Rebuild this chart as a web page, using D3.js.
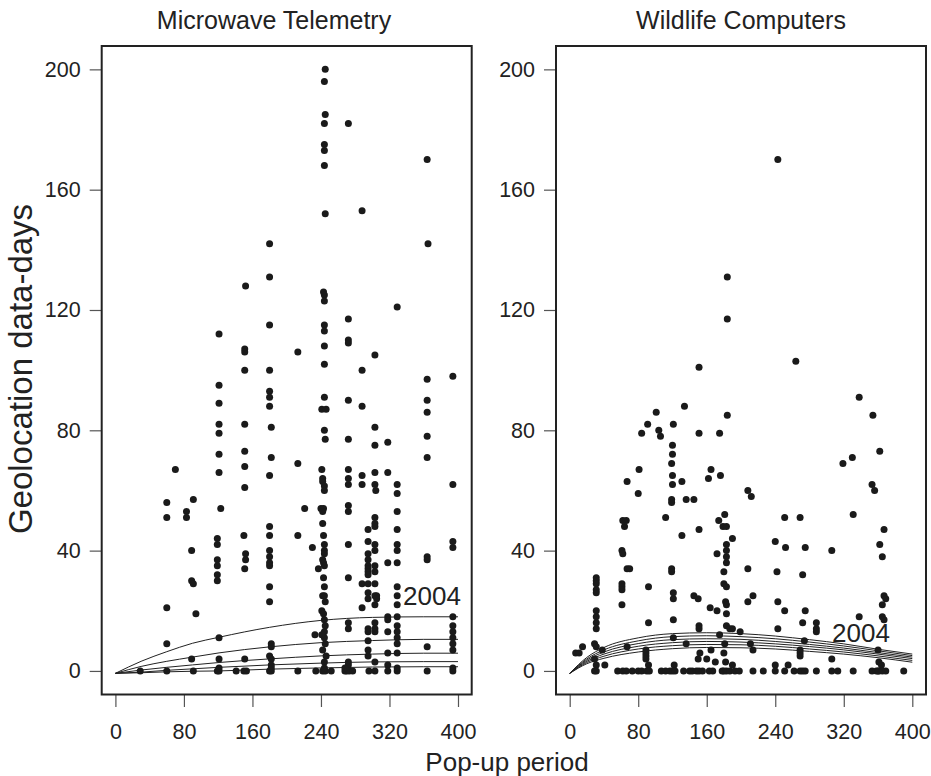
<!DOCTYPE html>
<html><head><meta charset="utf-8">
<script src="https://cdn.jsdelivr.net/npm/d3@7"></script>
<style>
body{margin:0;background:#fff}
text{font-family:"Liberation Sans",Arial,Helvetica,sans-serif;fill:#222}
</style>
</head><body><svg id="c" width="931" height="776"></svg>
<script>
const xTicks=[0,80,160,240,320,400];
const yTicks=[0,40,80,120,160,200];
const panelTitles=["Microwave Telemetry","Wildlife Computers"];
const xLabel="Pop-up period";
const yLabel="Geolocation data-days";
const curveLabel="2004";

// Microwave Telemetry points
const mtX=[245,244,245,244,272,244,244,364,244,245,288,180,365,180,152,243,244,244,329,272,180,244,244,121,272,272,151,151,213,244,303,
151,180,244,288,364,394,121,121,180,180,180,244,241,246,272,288,364,364,
121,121,151,182,244,245,272,303,303,318,364,121,121,151,151,151,182,180,70,213,364,
241,242,242,244,244,272,272,272,288,288,303,303,304,318,329,329,394,
60,60,83,83,91,123,221,240,243,242,272,272,329,
180,180,150,213,242,243,244,244,244,119,119,89,152,152,180,180,180,180,151,119,119,119,119,89,91,180,180,230,237,
242,243,244,243,244,242,244,245,241,243,244,245,244,244,245,242,246,244,
272,272,272,272,272,272,288,288,295,303,303,303,
295,295,295,295,295,295,295,303,303,303,303,303,303,303,295,295,295,305,305,
295,295,303,303,303,295,295,295,303,
318,318,318,318,318,318,
329,329,329,329,329,329,329,329,329,329,329,329,329,
364,364,364,394,394,394,394,394,394,394,394,
60,94,60,121,89,121,151,182,182,180,182,182,241,233,
29,60,91,119,121,141,150,153,180,182,213,234,242,245,252,268,270,273,277,296,303,318,329,364,394,
268,244,182,329,394,121];
const mtY=[200,196,185,182,182,175,173,170,168,152,153,142,142,131,128,126,125,123,121,117,115,115,113,112,110,109,107,106,106,108,105,
100,100,102,100,97,98,95,89,93,91,88,91,87,87,90,88,90,86,
82,79,82,81,80,77,77,81,75,76,78,72,66,73,68,61,71,65,67,69,71,
67,64,63,61.5,60,67,64,62,65,62,66,62,60,66,62,59,62,
56,51,53,51,57,54,54,54,54,53,55,53,53,
48,45,45,45,49,45,42,40,39,44,42,40,39,37,40,38,36,35,34,37,35,32,30,30,29,28,23,41,34,
37,36,35,31,28,25,25,23,20,19,17,15,13,11,9,7,5,3,
42,31,16,14,3,2,29,21,47,49,48,51,
43,39,37,35,34,33,32,42,40,35,33,29,25,22,29,26,24,25,24,
14,13,16,14,13,10,7,5,3,
36,18,17,13,6,2,
47,42,40,36,28,25,22,18,15,13,11,9,6,
38,37,8,43,41,18,15,13,11,9,7,
21,19,9,11,4,4,4,9,8,5,4,2,12,12,
0,0,0,0,0,0,0,0,0,0,0,0,0,0,0,0,0,0,0,0,0,0,0,0,0,
1,1,1,1,1,1];

// Wildlife Computers points
const wcX=[264,151,338,134,101,184,354,91,121,84,104,106,151,175,120,120,119,81,165,162,176,120,120,131,67,80,353,356,319,330,362,208,212,119,119,136,145,112,62,66,64,181,174,179,183,251,269,331,367,151,131,190,240,252,275,306,362,365,183,183,183,183,172,61,62,67,70,208,242,272,119,119,180,180,183,92,61,61,61,31,31,31,31,31,121,121,145,150,182,183,164,172,183,208,214,243,251,275,367,369,365,365,367,338,61,31,31,31,31,92,121,151,151,183,187,190,199,175,243,272,288,288,288,274,29,31,15,7,11,38,67,89,89,89,89,121,136,152,165,181,180,211,214,269,269,269,306,360,
29,31,41,150,160,170,182,190,240,255,361,364,92,122,
29,31,56,62,66,73,80,84,90,93,107,112,117,120,123,133,140,143,148,151,155,163,167,178,180,183,187,193,198,214,226,240,251,262,269,272,275,288,306,313,331,353,358,360,361,365,369,390,
243,184,184];
const wcY=[103,101,91,88,86,85,85,82,82,79,80,78,79,79,75,72,69,67,67,64,65,65,62,63,63,59,62,60,69,71,73,60,58,57,56,57,57,51,50,50,48,52,50,48,48,51,51,52,47,47,45,44,43,41,41,40,42,38,42,40,38,36,39,40,39,34,34,34,33,32,34,33,33,29,28,28,29,28,27,31,30,29,27,26,26,24,25,24,23,22,21,20,19,23,25,23,20,20,25,24,22,18,17,18,22,20,18,16,14,16,17,15,14,15,14,14,13,12,14,16,16,14,13,10,9,8,8,6,6,7,8,7,6,5,4,11,9,6,7,9,6,9,7,7,6,5,4,7,
4,2,2,4,4,3,3,2,2,2,3,2,2,2,
0,0,0,0,0,0,0,0,0,0,0,0,0,0,0,0,0,0,0,0,0,0,0,0,0,0,0,0,0,0,0,0,0,0,0,0,0,0,0,0,0,0,0,0,0,0,0,0,
170,131,117];

// fitted curves
const mtCurveX=[0,30,60,90,121,180,240,300,360,400];
const mtCurves=[
 [-0.8,3.2,6.4,9.2,11.2,14.5,16.8,17.8,18,18],
 [-0.8,1.5,3.2,4.6,6,8,9.4,10.1,10.5,10.5],
 [-0.8,0.3,1.2,2,2.8,4,5,5.6,5.9,5.9],
 [-0.8,-0.4,0.2,0.7,1.2,2,2.6,3,3.1,3.1],
 [-0.8,-0.6,-0.3,-0.1,0,0.6,1,1.3,1.4,1.4]
];
const wcCurveX=[0,20,40,80,120,160,200,240,280,320,360,400];
const wcCurves=[
 [-0.8,4.5,7.8,11,12.4,12.7,12.4,11.6,10.4,9,7.2,5.6],
 [-0.8,4,7,10,11.4,11.7,11.4,10.7,9.6,8.3,6.7,5.1],
 [-0.8,3.6,6.3,9.1,10.4,10.7,10.5,9.8,8.8,7.6,6.1,4.6],
 [-0.8,3.2,5.6,8.2,9.4,9.8,9.6,9,8.1,7,5.6,4.1],
 [-0.8,2.8,4.9,7.3,8.4,8.8,8.7,8.2,7.3,6.3,5,3.5],
 [-0.8,2.4,4.2,6.3,7.4,7.8,7.7,7.3,6.5,5.6,4.4,2.9]
];

const svg=d3.select("#c");
svg.append("rect").attr("width",931).attr("height",776).attr("fill","#fff");

const panels=[
 {x0:101.7,x1:471.7,title:panelTitles[0],tx:274,xs:mtX,ys:mtY,cx:mtCurveX,curves:mtCurves},
 {x0:556,x1:926,title:panelTitles[1],tx:741,xs:wcX,ys:wcY,cx:wcCurveX,curves:wcCurves}
];
const yTop=45.3,yBot=695;

panels.forEach((p,i)=>{
  const x=d3.scaleLinear().domain([-16,416]).range([p.x0,p.x1]);
  const y=d3.scaleLinear().domain([-8,208]).range([yBot,yTop]);
  const g=svg.append("g");
  const ax=g.append("g").attr("transform",`translate(0,${yBot})`)
    .call(d3.axisBottom(x).tickValues(xTicks).tickSize(12).tickPadding(17).tickFormat(d3.format("d")));
  const ay=g.append("g").attr("transform",`translate(${p.x0},0)`)
    .call(d3.axisLeft(y).tickValues(yTicks).tickSize(12).tickPadding(9).tickFormat(d3.format("d")));
  [ax,ay].forEach(a=>{
    a.select(".domain").remove();
    a.selectAll(".tick line").attr("stroke","#555").attr("stroke-width",1.2);
    a.selectAll(".tick text").attr("font-size",21.5).attr("fill","#222")
      .attr("font-family",'"Liberation Sans",Arial,Helvetica,sans-serif');
  });
  const line=d3.line().x((d,j)=>x(p.cx[j])).y(d=>y(d)).curve(d3.curveMonotoneX);
  g.selectAll("path.fit").data(p.curves).join("path").attr("class","fit")
    .attr("d",line).attr("fill","none").attr("stroke","#222").attr("stroke-width",1);
  g.selectAll("circle").data(p.xs.map((v,j)=>[v,p.ys[j]])).join("circle")
    .attr("cx",d=>x(d[0])).attr("cy",d=>y(d[1])).attr("r",3.5).attr("fill","#1a1a1a");
  g.append("rect").attr("x",p.x0).attr("y",yTop+0.7).attr("width",p.x1-p.x0).attr("height",yBot-yTop-1.2)
    .attr("fill","none").attr("stroke","#222").attr("stroke-width",2);
  g.append("text").attr("x",p.tx).attr("y",29).attr("text-anchor","middle").attr("font-size",25).text(p.title);
});
svg.append("text").attr("x",403).attr("y",605).attr("font-size",26).text(curveLabel);
svg.append("text").attr("x",832).attr("y",642).attr("font-size",26).text(curveLabel);
svg.append("text").attr("x",507).attr("y",771).attr("text-anchor","middle").attr("font-size",26).text(xLabel);
svg.append("text").attr("transform","translate(32,369) rotate(-90)").attr("text-anchor","middle").attr("font-size",33).text(yLabel);
</script>
</body></html>
